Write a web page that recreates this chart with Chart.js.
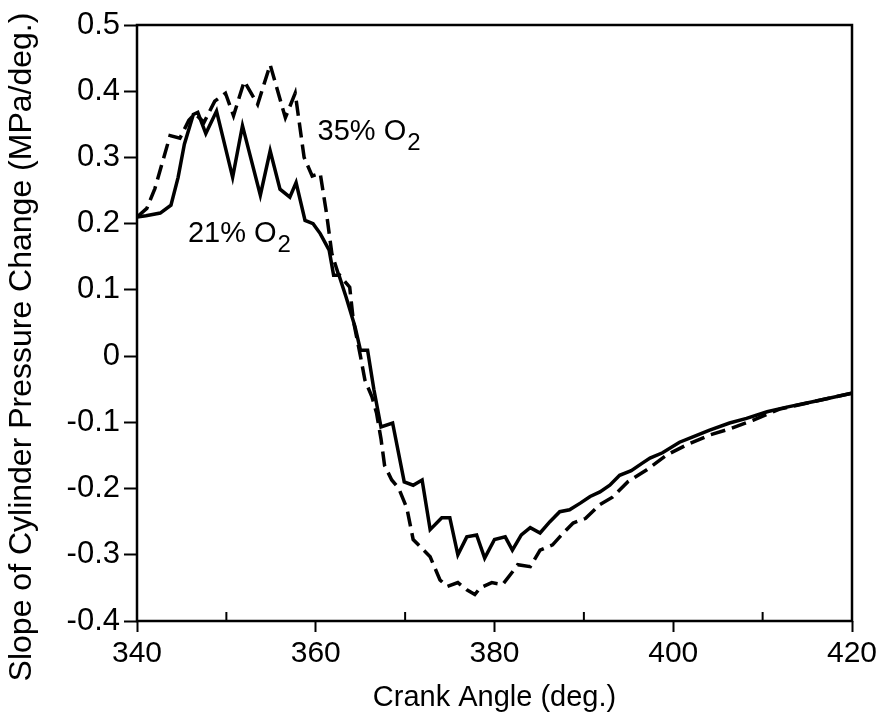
<!DOCTYPE html>
<html>
<head>
<meta charset="utf-8">
<script src="https://cdn.jsdelivr.net/npm/chart.js@4.4.1/dist/chart.umd.min.js"></script>
<style>
  html, body { margin: 0; padding: 0; background: #fff; }
  #wrap { width: 885px; height: 720px; }
</style>
</head>
<body>
<div id="wrap"><canvas id="slopeChart" width="885" height="720"></canvas></div>
<script>
// 21% O2 (solid line)
const angle21 = [340, 341, 342.6, 343.8, 344.6, 345.3, 346.3, 346.8, 347.7, 348.9, 350.7, 351.8, 353.8, 354.9, 356, 357.1, 357.8, 358.8, 359.7, 360.5, 361.5, 362, 362.6, 363.4, 364.4, 365, 365.8, 366.5, 367.3, 368.6, 369.9, 370.9, 371.9, 372.8, 374.1, 375, 375.9, 376.9, 378, 378.9, 380, 381.2, 382, 383, 384, 385.1, 386.2, 387.3, 388.4, 389.6, 390.7, 391.8, 392.9, 394, 395.3, 396.5, 397.4, 398.8, 400.7, 402.2, 404, 406.3, 408.2, 410.5, 412.7, 415.6, 420];
const slope21 = [0.21, 0.212, 0.216, 0.228, 0.27, 0.32, 0.365, 0.368, 0.336, 0.37, 0.27, 0.348, 0.243, 0.31, 0.252, 0.24, 0.262, 0.205, 0.2, 0.185, 0.16, 0.122, 0.122, 0.089, 0.044, 0.009, 0.009, -0.05, -0.107, -0.101, -0.19, -0.195, -0.187, -0.262, -0.244, -0.244, -0.3, -0.273, -0.27, -0.305, -0.277, -0.273, -0.293, -0.27, -0.259, -0.267, -0.25, -0.235, -0.232, -0.222, -0.212, -0.205, -0.195, -0.18, -0.173, -0.162, -0.154, -0.146, -0.13, -0.122, -0.112, -0.101, -0.094, -0.084, -0.077, -0.069, -0.056];

// 35% O2 (dashed line)
const angle35 = [340, 341.1, 342, 343, 343.7, 344.8, 345.8, 346.5, 347.5, 348.7, 349.9, 350.8, 352, 353.5, 354.9, 356.6, 357.7, 358.7, 359.6, 360.5, 361.2, 361.8, 362.5, 363.8, 364.2, 365, 365.5, 366.3, 366.8, 367.3, 367.7, 368.5, 369.3, 370.2, 370.9, 372.8, 373.9, 374.7, 375.9, 376.9, 377.8, 378.4, 379.7, 380.9, 382, 382.6, 384, 385.1, 386.5, 387.5, 388.8, 390.2, 391.8, 393.2, 394.9, 397, 399.3, 401.5, 404.1, 406.3, 408.9, 411.9, 415.6, 420];
const slope35 = [0.21, 0.223, 0.253, 0.3, 0.333, 0.329, 0.356, 0.366, 0.353, 0.385, 0.397, 0.363, 0.415, 0.38, 0.44, 0.36, 0.397, 0.3, 0.272, 0.276, 0.216, 0.155, 0.125, 0.104, 0.054, 0.0, -0.036, -0.062, -0.086, -0.125, -0.165, -0.187, -0.2, -0.23, -0.277, -0.303, -0.338, -0.348, -0.342, -0.353, -0.36, -0.35, -0.342, -0.345, -0.326, -0.315, -0.318, -0.293, -0.285, -0.27, -0.252, -0.245, -0.224, -0.213, -0.19, -0.172, -0.149, -0.134, -0.119, -0.11, -0.097, -0.08, -0.069, -0.056];

const xTicks = [340, 360, 380, 400, 420];
const xMinorTicks = [350, 370, 390, 410];
const yTicks = [0.5, 0.4, 0.3, 0.2, 0.1, 0, -0.1, -0.2, -0.3, -0.4];

const xTitle = 'Crank Angle (deg.)';
const yTitle = 'Slope of Cylinder Pressure Change (MPa/deg.)';

// curve labels: [text, subscript, anchor angle, anchor slope]
const curveLabels = [
    ['35% O', '2', 360.2, 0.326],
    ['21% O', '2', 345.7, 0.172]
];

const FONT = '"Liberation Sans", Arial, Helvetica, sans-serif';

function toPoints(xs, ys) {
    return xs.map((x, i) => ({ x: x, y: ys[i] }));
}

const framePlugin = {
    id: 'frame',
    afterDraw(chart) {
        const ctx = chart.ctx;
        const area = chart.chartArea;
        const xs = chart.scales.x;
        const ys = chart.scales.y;
        ctx.save();
        ctx.strokeStyle = '#000';
        ctx.lineWidth = 2.5;
        ctx.strokeRect(area.left, area.top, area.right - area.left, area.bottom - area.top);

        // minor ticks on the x axis point inwards
        ctx.lineWidth = 2;
        xMinorTicks.forEach(v => {
            const px = xs.getPixelForValue(v);
            ctx.beginPath();
            ctx.moveTo(px, area.bottom);
            ctx.lineTo(px, area.bottom - 9);
            ctx.stroke();
        });

        ctx.fillStyle = '#000';
        ctx.textBaseline = 'alphabetic';
        ctx.textAlign = 'left';
        curveLabels.forEach(lbl => {
            const px = xs.getPixelForValue(lbl[2]);
            const py = ys.getPixelForValue(lbl[3]);
            ctx.font = '29px ' + FONT;
            ctx.fillText(lbl[0], px, py);
            const w = ctx.measureText(lbl[0]).width;
            ctx.font = '24px ' + FONT;
            ctx.fillText(lbl[1], px + w + 1, py + 10);
        });

        // y axis title
        ctx.font = '32px ' + FONT;
        ctx.textAlign = 'center';
        ctx.textBaseline = 'middle';
        ctx.translate(22, 347);
        ctx.rotate(-Math.PI / 2);
        ctx.fillText(yTitle, 0, 0);
        ctx.restore();
    }
};

const ctx = document.getElementById('slopeChart').getContext('2d');

new Chart(ctx, {
    type: 'line',
    data: {
        datasets: [
            {
                label: '21% O2',
                data: toPoints(angle21, slope21),
                borderColor: '#000',
                borderWidth: 3.5,
                pointRadius: 0,
                tension: 0,
                fill: false
            },
            {
                label: '35% O2',
                data: toPoints(angle35, slope35),
                borderColor: '#000',
                borderWidth: 3.5,
                borderDash: [15, 7],
                pointRadius: 0,
                tension: 0,
                fill: false
            }
        ]
    },
    options: {
        responsive: false,
        animation: false,
        layout: { padding: { left: 0, top: 25, right: 33, bottom: 0 } },
        plugins: {
            legend: { display: false },
            tooltip: { enabled: false }
        },
        scales: {
            x: {
                type: 'linear',
                min: 340,
                max: 420,
                afterBuildTicks: scale => { scale.ticks = xTicks.map(v => ({ value: v })); },
                afterFit: scale => { scale.height = 99; },
                border: { display: false },
                grid: { drawOnChartArea: false, drawTicks: true, tickLength: 11, tickWidth: 2, tickColor: '#000' },
                ticks: {
                    color: '#000',
                    padding: 4,
                    maxRotation: 0,
                    font: { family: FONT, size: 30 },
                    callback: v => String(v)
                },
                title: {
                    display: true,
                    text: xTitle,
                    color: '#000',
                    font: { family: FONT, size: 29 },
                    padding: { top: 0, bottom: 5 }
                }
            },
            y: {
                type: 'linear',
                min: -0.4,
                max: 0.5,
                afterBuildTicks: scale => { scale.ticks = yTicks.map(v => ({ value: v })); },
                afterFit: scale => { scale.width = 137; },
                border: { display: false },
                grid: { drawOnChartArea: false, drawTicks: true, tickLength: 13, tickWidth: 2, tickColor: '#000' },
                ticks: {
                    color: '#000',
                    padding: 4,
                    font: { family: FONT, size: 31 },
                    callback: v => (Math.abs(v) < 1e-9 ? '0' : v.toFixed(1))
                },
                title: { display: false }
            }
        }
    },
    plugins: [framePlugin]
});
</script>
</body>
</html>
